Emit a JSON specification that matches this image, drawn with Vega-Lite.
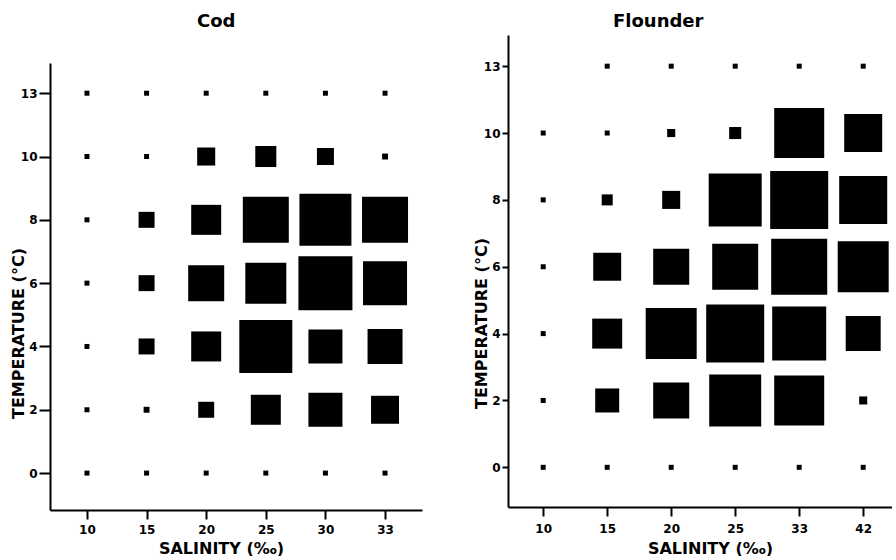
{
  "$schema": "https://vega.github.io/schema/vega-lite/v6.json",
  "padding": {"left": 10, "top": 13, "right": 0, "bottom": 0},
  "background": "white",
  "datasets": {
    "cod": [
      {"salinity": 10, "temperature": 13, "value": 0}, {"salinity": 10, "temperature": 10, "value": 0}, {"salinity": 10, "temperature": 8, "value": 0}, {"salinity": 10, "temperature": 6, "value": 0}, {"salinity": 10, "temperature": 4, "value": 0}, {"salinity": 10, "temperature": 2, "value": 0}, {"salinity": 10, "temperature": 0, "value": 0},
      {"salinity": 15, "temperature": 13, "value": 0}, {"salinity": 15, "temperature": 10, "value": 0}, {"salinity": 15, "temperature": 8, "value": 6.9}, {"salinity": 15, "temperature": 6, "value": 6.9}, {"salinity": 15, "temperature": 4, "value": 6.9}, {"salinity": 15, "temperature": 2, "value": 0.3}, {"salinity": 15, "temperature": 0, "value": 0},
      {"salinity": 20, "temperature": 13, "value": 0}, {"salinity": 20, "temperature": 10, "value": 9.0}, {"salinity": 20, "temperature": 8, "value": 26.2}, {"salinity": 20, "temperature": 6, "value": 38.1}, {"salinity": 20, "temperature": 4, "value": 26.2}, {"salinity": 20, "temperature": 2, "value": 6.9}, {"salinity": 20, "temperature": 0, "value": 0},
      {"salinity": 25, "temperature": 13, "value": 0}, {"salinity": 25, "temperature": 10, "value": 12.5}, {"salinity": 25, "temperature": 8, "value": 62.6}, {"salinity": 25, "temperature": 6, "value": 49.6}, {"salinity": 25, "temperature": 4, "value": 83.4}, {"salinity": 25, "temperature": 2, "value": 26.2}, {"salinity": 25, "temperature": 0, "value": 0},
      {"salinity": 30, "temperature": 13, "value": 0}, {"salinity": 30, "temperature": 10, "value": 7.9}, {"salinity": 30, "temperature": 8, "value": 80.2}, {"salinity": 30, "temperature": 6, "value": 86.6}, {"salinity": 30, "temperature": 4, "value": 33.9}, {"salinity": 30, "temperature": 2, "value": 33.9}, {"salinity": 30, "temperature": 0, "value": 0},
      {"salinity": 33, "temperature": 13, "value": 0}, {"salinity": 33, "temperature": 10, "value": 0.3}, {"salinity": 33, "temperature": 8, "value": 62.6}, {"salinity": 33, "temperature": 6, "value": 57.2}, {"salinity": 33, "temperature": 4, "value": 35.9}, {"salinity": 33, "temperature": 2, "value": 22.7}, {"salinity": 33, "temperature": 0, "value": 0}
    ],
    "flounder": [
      {"salinity": 10, "temperature": 10, "value": 0}, {"salinity": 10, "temperature": 8, "value": 0}, {"salinity": 10, "temperature": 6, "value": 0}, {"salinity": 10, "temperature": 4, "value": 0}, {"salinity": 10, "temperature": 2, "value": 0}, {"salinity": 10, "temperature": 0, "value": 0},
      {"salinity": 15, "temperature": 13, "value": 0}, {"salinity": 15, "temperature": 10, "value": 0}, {"salinity": 15, "temperature": 8, "value": 2.9}, {"salinity": 15, "temperature": 6, "value": 22.7}, {"salinity": 15, "temperature": 4, "value": 26.2}, {"salinity": 15, "temperature": 2, "value": 16.5}, {"salinity": 15, "temperature": 0, "value": 0},
      {"salinity": 20, "temperature": 13, "value": 0}, {"salinity": 20, "temperature": 10, "value": 1.2}, {"salinity": 20, "temperature": 8, "value": 9.0}, {"salinity": 20, "temperature": 6, "value": 38.1}, {"salinity": 20, "temperature": 4, "value": 77.1}, {"salinity": 20, "temperature": 2, "value": 38.1}, {"salinity": 20, "temperature": 0, "value": 0},
      {"salinity": 25, "temperature": 13, "value": 0}, {"salinity": 25, "temperature": 10, "value": 3.6}, {"salinity": 25, "temperature": 8, "value": 83.4}, {"salinity": 25, "temperature": 6, "value": 62.6}, {"salinity": 25, "temperature": 4, "value": 100}, {"salinity": 25, "temperature": 2, "value": 80.2}, {"salinity": 25, "temperature": 0, "value": 0},
      {"salinity": 33, "temperature": 13, "value": 0}, {"salinity": 33, "temperature": 10, "value": 74.1}, {"salinity": 33, "temperature": 8, "value": 100}, {"salinity": 33, "temperature": 6, "value": 93.2}, {"salinity": 33, "temperature": 4, "value": 86.6}, {"salinity": 33, "temperature": 2, "value": 74.1}, {"salinity": 33, "temperature": 0, "value": 0},
      {"salinity": 42, "temperature": 13, "value": 0}, {"salinity": 42, "temperature": 10, "value": 42.5}, {"salinity": 42, "temperature": 8, "value": 68.3}, {"salinity": 42, "temperature": 6, "value": 77.1}, {"salinity": 42, "temperature": 4, "value": 35.9}, {"salinity": 42, "temperature": 2, "value": 1.2}, {"salinity": 42, "temperature": 0, "value": 0}
    ]
  },
  "spacing": 51,
  "hconcat": [
    {
      "data": {"name": "cod"},
      "width": 372,
      "height": 475,
      "title": {"text": "Cod", "anchor": "start", "frame": "group", "dx": 147, "offset": 4},
      "mark": {"type": "square", "filled": true, "color": "black", "opacity": 1},
      "encoding": {
        "x": {"field": "salinity", "type": "ordinal", "scale": {"type": "point", "padding": 0.62},
              "axis": {"title": "SALINITY (‰)", "labelAngle": 0, "tickSize": 9, "labelPadding": 5, "titleX": 171, "titlePadding": 5}},
        "y": {"field": "temperature", "type": "ordinal", "sort": "descending", "scale": {"type": "point", "padding": 0.53, "align": 0.45, "range": [28, 475]},
              "axis": {"title": "TEMPERATURE (°C)", "tickSize": 11, "labelPadding": 2, "titlePadding": -6, "titleY": 298}},
        "size": {"field": "value", "type": "quantitative", "scale": {"type": "linear", "domain": [0, 100], "range": [25, 3364]}, "legend": null}
      }
    },
    {
      "data": {"name": "flounder"},
      "width": 384,
      "height": 472,
      "title": {"text": "Flounder", "anchor": "start", "frame": "group", "dx": 105, "offset": 4},
      "mark": {"type": "square", "filled": true, "color": "black", "opacity": 1},
      "encoding": {
        "x": {"field": "salinity", "type": "ordinal", "scale": {"type": "point", "padding": 0.5, "align": 0.55},
              "axis": {"title": "SALINITY (‰)", "labelAngle": 0, "tickSize": 9, "labelPadding": 7, "titleX": 202, "titlePadding": 6}},
        "y": {"field": "temperature", "type": "ordinal", "sort": "descending", "scale": {"type": "point", "padding": 0.53, "align": 0.44},
              "axis": {"title": "TEMPERATURE (°C)", "tickSize": 6, "labelPadding": 2, "titlePadding": -6, "titleY": 288}},
        "size": {"field": "value", "type": "quantitative", "scale": {"type": "linear", "domain": [0, 100], "range": [25, 3364]}, "legend": null}
      }
    }
  ],
  "resolve": {"scale": {"x": "independent", "y": "independent"}},
  "config": {
    "view": {"stroke": null},
    "font": "DejaVu Sans",
    "title": {"font": "DejaVu Sans", "fontSize": 18, "fontWeight": "bold", "color": "black"},
    "axis": {
      "grid": false,
      "domainColor": "black",
      "domainWidth": 2,
      "tickColor": "black",
      "tickWidth": 2,
      "labelFont": "DejaVu Sans",
      "labelFontSize": 12,
      "labelFontWeight": "bold",
      "labelColor": "black",
      "titleFont": "DejaVu Sans",
      "titleFontSize": 16,
      "titleFontWeight": "bold",
      "titleColor": "black"
    }
  }
}
